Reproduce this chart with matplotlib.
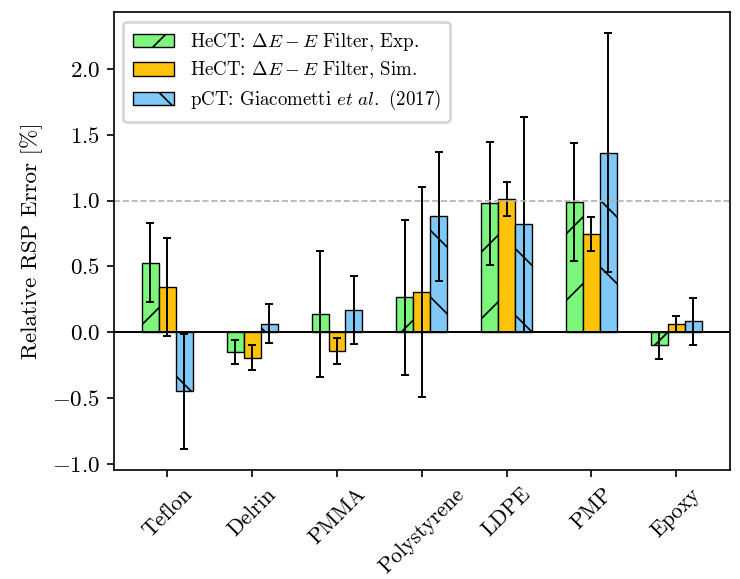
import matplotlib
matplotlib.use("Agg")
import matplotlib.pyplot as plt
import numpy as np

plt.rcParams['font.family'] = ['cmr10']
plt.rcParams['mathtext.fontset'] = 'cm'
plt.rcParams['axes.formatter.use_mathtext'] = True
plt.rcParams['hatch.linewidth'] = 0.6
plt.rcParams['axes.unicode_minus'] = True

# data
materials = ["Teflon", "Delrin", "PMMA", "Polystyrene", "LDPE", "PMP", "Epoxy"]

exp_vals = [0.53, -0.15, 0.14, 0.265, 0.98, 0.99, -0.10]
exp_err = [0.30, 0.09, 0.48, 0.59, 0.47, 0.45, 0.10]

sim_vals = [0.345, -0.195, -0.14, 0.305, 1.01, 0.745, 0.063]
sim_err = [0.37, 0.095, 0.10, 0.80, 0.13, 0.13, 0.06]

pct_vals = [-0.45, 0.066, 0.17, 0.88, 0.82, 1.365, 0.083]
pct_err = [0.44, 0.15, 0.26, 0.49, 0.82, 0.91, 0.18]

labels = [r"HeCT: $\Delta E - E$ Filter, Exp.",
          r"HeCT: $\Delta E - E$ Filter, Sim.",
          r"pCT: Giacometti $et\ al.$ (2017)"]

fig, ax = plt.subplots(figsize=(3.7, 2.895), dpi=200)

x = np.arange(len(materials))
w = 0.2
err_kw = dict(elinewidth=0.7, capthick=0.7, ecolor="black")

ax.bar(x - w, exp_vals, w, yerr=exp_err, capsize=1.3, color="#7CF57C",
       edgecolor="black", linewidth=0.5, hatch="/", error_kw=err_kw, label=labels[0])
ax.bar(x, sim_vals, w, yerr=sim_err, capsize=1.3, color="#FFC20A",
       edgecolor="black", linewidth=0.5, error_kw=err_kw, label=labels[1])
ax.bar(x + w, pct_vals, w, yerr=pct_err, capsize=1.3, color="#80C8F5",
       edgecolor="black", linewidth=0.5, hatch="\\", error_kw=err_kw, label=labels[2])

ax.axhline(0, color="black", linewidth=0.7)
ax.axhline(1, color="#b0b0b0", linestyle="--", linewidth=0.6)

ax.set_xticks(x)
ax.set_xticklabels(materials, rotation=45, fontsize=7.8)
ax.set_yticks([-1.0, -0.5, 0.0, 0.5, 1.0, 1.5, 2.0])
ax.tick_params(axis="y", labelsize=8.3)
ax.tick_params(width=0.6, length=2.5, pad=2.5)
ax.set_ylabel("Relative RSP Error [%]", fontsize=8.3, labelpad=3)
for s in ax.spines.values():
    s.set_linewidth(0.6)

ax.legend(loc="upper left", fontsize=6.8, handlelength=2.2, borderpad=0.5,
          labelspacing=0.35, framealpha=0.8)

fig.subplots_adjust(left=0.154, right=0.986, top=0.979, bottom=0.188)
fig.savefig("out.png", dpi=200)
